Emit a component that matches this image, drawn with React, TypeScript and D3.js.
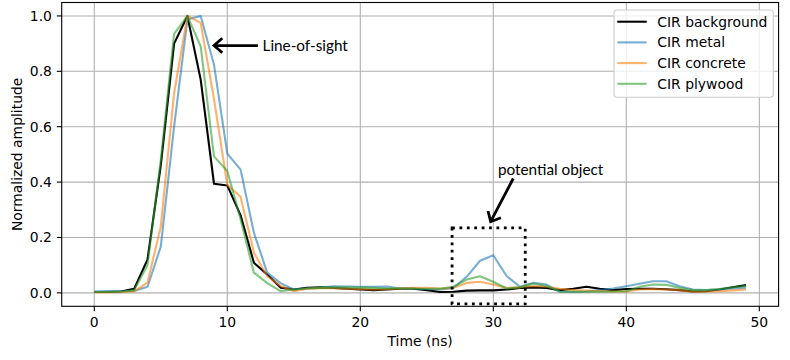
import { useEffect, useRef } from 'react';
import * as d3 from 'd3';

const time = d3.range(0, 50);

const background = [
  0.003, 0.003, 0.005, 0.015, 0.12, 0.46, 0.9, 1.0, 0.77, 0.394,
  0.388, 0.28, 0.109, 0.066, 0.019, 0.012, 0.018, 0.02, 0.018, 0.015,
  0.012, 0.01, 0.012, 0.015, 0.015, 0.01, 0.003, 0.004, 0.008, 0.009,
  0.009, 0.012, 0.018, 0.02, 0.018, 0.01, 0.015, 0.022, 0.015, 0.01,
  0.014, 0.015, 0.015, 0.013, 0.01, 0.005, 0.006, 0.012, 0.02, 0.028,
];

const metal = [
  0.005, 0.007, 0.007, 0.007, 0.022, 0.167, 0.6, 0.987, 1.0, 0.824,
  0.503, 0.445, 0.217, 0.073, 0.035, 0.012, 0.016, 0.019, 0.024, 0.023,
  0.022, 0.022, 0.023, 0.016, 0.016, 0.013, 0.012, 0.018, 0.058, 0.116,
  0.136, 0.061, 0.022, 0.036, 0.03, 0.004, 0.003, 0.005, 0.01, 0.016,
  0.024, 0.033, 0.042, 0.042, 0.024, 0.012, 0.01, 0.012, 0.016, 0.019,
];

const concrete = [
  0.002, 0.002, 0.002, 0.005, 0.037, 0.24, 0.72, 1.0, 0.975, 0.7,
  0.39, 0.347, 0.145, 0.06, 0.025, 0.006, 0.015, 0.017, 0.017, 0.015,
  0.013, 0.012, 0.013, 0.016, 0.018, 0.018, 0.016, 0.018, 0.036, 0.04,
  0.03, 0.018, 0.02, 0.025, 0.022, 0.015, 0.01, 0.008, 0.006, 0.005,
  0.005, 0.012, 0.014, 0.012, 0.01, 0.004, 0.004, 0.006, 0.009, 0.012,
];

const plywood = [
  0.003, 0.003, 0.004, 0.01, 0.1, 0.48, 0.935, 1.0, 0.89, 0.493,
  0.44, 0.265, 0.073, 0.035, 0.006, 0.012, 0.016, 0.018, 0.02, 0.02,
  0.02, 0.018, 0.016, 0.016, 0.015, 0.015, 0.015, 0.022, 0.048, 0.06,
  0.04, 0.016, 0.02, 0.034, 0.025, 0.005, 0.004, 0.004, 0.004, 0.005,
  0.006, 0.022, 0.03, 0.029, 0.018, 0.01, 0.01, 0.014, 0.02, 0.026,
];

const seriesNames = ['CIR background', 'CIR metal', 'CIR concrete', 'CIR plywood'];
const xTicks = [0, 10, 20, 30, 40, 50];
const yTicks = [0, 0.2, 0.4, 0.6, 0.8, 1.0];

export default function App() {
  const svgRef = useRef<SVGSVGElement>(null);

  useEffect(() => {
    const width = 790;
    const height = 360;
    const margin = { top: 2.5, right: 11.4, bottom: 53.7, left: 61.7 };
    const innerWidth = width - margin.left - margin.right;
    const innerHeight = height - margin.top - margin.bottom;
    const font = 'DejaVu Sans, sans-serif';
    const annFont = 'Lato, Open Sans, sans-serif';

    const svg = d3.select(svgRef.current);
    svg.selectAll('*').remove();
    svg.attr('width', width).attr('height', height);

    const chart = svg.append('g')
      .attr('transform', `translate(${margin.left},${margin.top})`);

    const xScale = d3.scaleLinear().domain([-2.45, 51.45]).range([0, innerWidth]);
    const yScale = d3.scaleLinear().domain([-0.0485, 1.0485]).range([innerHeight, 0]);

    // grid
    chart.selectAll('.xgrid').data(xTicks).join('line')
      .attr('x1', d => xScale(d)).attr('x2', d => xScale(d))
      .attr('y1', 0).attr('y2', innerHeight)
      .attr('stroke', '#b0b0b0').attr('stroke-width', 1.1);
    chart.selectAll('.ygrid').data(yTicks).join('line')
      .attr('x1', 0).attr('x2', innerWidth)
      .attr('y1', d => yScale(d)).attr('y2', d => yScale(d))
      .attr('stroke', '#b0b0b0').attr('stroke-width', 1.1);

    // lines
    const series = [
      { values: background, color: '#000000', opacity: 1 },
      { values: metal, color: '#1f77b4', opacity: 0.6 },
      { values: concrete, color: '#ff7f0e', opacity: 0.6 },
      { values: plywood, color: '#2ca02c', opacity: 0.6 },
    ];
    const line = d3.line<number>()
      .x((_, i) => xScale(time[i]))
      .y(d => yScale(d));

    const plot = chart.append('g');
    series.forEach(s => {
      plot.append('path')
        .attr('d', line(s.values))
        .attr('fill', 'none')
        .attr('stroke', s.color)
        .attr('stroke-opacity', s.opacity)
        .attr('stroke-width', 2.1)
        .attr('stroke-linejoin', 'round');
    });

    // dotted box around the object reflection
    chart.append('rect')
      .attr('x', xScale(26.9))
      .attr('y', yScale(0.235))
      .attr('width', xScale(32.4) - xScale(26.9))
      .attr('height', yScale(-0.04) - yScale(0.235))
      .attr('fill', 'none')
      .attr('stroke', '#000')
      .attr('stroke-width', 2.8)
      .attr('stroke-dasharray', '2.8,4.6');

    // annotations
    const arrow = (x1: number, y1: number, x2: number, y2: number) => {
      const px1 = xScale(x1), py1 = yScale(y1), px2 = xScale(x2), py2 = yScale(y2);
      const ang = Math.atan2(py1 - py2, px1 - px2);
      const len = 11;
      const spread = 0.72;
      const a1 = [px2 + len * Math.cos(ang + spread), py2 + len * Math.sin(ang + spread)];
      const a2 = [px2 + len * Math.cos(ang - spread), py2 + len * Math.sin(ang - spread)];
      chart.append('path')
        .attr('d', `M${px1},${py1}L${px2},${py2}M${a1[0]},${a1[1]}L${px2},${py2}L${a2[0]},${a2[1]}`)
        .attr('fill', 'none')
        .attr('stroke', '#000')
        .attr('stroke-width', 2.8);
    };

    arrow(12.3, 0.893, 9.0, 0.893);
    chart.append('text')
      .attr('x', xScale(12.65))
      .attr('y', yScale(0.893))
      .attr('dy', '0.35em')
      .attr('font-family', annFont)
      .attr('font-size', 15.3)
      .text('Line-of-sight');

    arrow(31.5, 0.413, 29.8, 0.257);
    chart.append('text')
      .attr('x', xScale(30.35))
      .attr('y', yScale(0.445))
      .attr('dy', '0.35em')
      .attr('font-family', annFont)
      .attr('font-size', 15.3)
      .text('potential object');

    // frame
    chart.append('rect')
      .attr('width', innerWidth).attr('height', innerHeight)
      .attr('fill', 'none').attr('stroke', '#000').attr('stroke-width', 1.1);

    // ticks
    chart.selectAll('.xtick').data(xTicks).join('line')
      .attr('x1', d => xScale(d)).attr('x2', d => xScale(d))
      .attr('y1', innerHeight).attr('y2', innerHeight + 4.9)
      .attr('stroke', '#000').attr('stroke-width', 1.1);
    chart.selectAll('.xlabel').data(xTicks).join('text')
      .attr('x', d => xScale(d))
      .attr('y', innerHeight + 9.8)
      .attr('dy', '0.76em')
      .attr('text-anchor', 'middle')
      .attr('font-family', font).attr('font-size', 13.9)
      .text(d => d3.format('d')(d));

    chart.selectAll('.ytick').data(yTicks).join('line')
      .attr('x1', -4.9).attr('x2', 0)
      .attr('y1', d => yScale(d)).attr('y2', d => yScale(d))
      .attr('stroke', '#000').attr('stroke-width', 1.1);
    chart.selectAll('.ylabel').data(yTicks).join('text')
      .attr('x', -9.8)
      .attr('y', d => yScale(d))
      .attr('dy', '0.36em')
      .attr('text-anchor', 'end')
      .attr('font-family', font).attr('font-size', 13.9)
      .text(d => d3.format('.1f')(d));

    chart.append('text')
      .attr('x', innerWidth / 2)
      .attr('y', innerHeight + 40)
      .attr('text-anchor', 'middle')
      .attr('font-family', font).attr('font-size', 13.9)
      .text('Time (ns)');

    chart.append('text')
      .attr('transform', `translate(${17 - margin.left},${innerHeight / 2}) rotate(-90)`)
      .attr('text-anchor', 'middle')
      .attr('dy', '0.35em')
      .attr('font-family', font).attr('font-size', 13.9)
      .text('Normalized amplitude');

    // legend
    const legend = svg.append('g').attr('transform', 'translate(614,10)');
    legend.append('rect')
      .attr('width', 159.3).attr('height', 87.3)
      .attr('rx', 3)
      .attr('fill', '#fff').attr('fill-opacity', 0.8)
      .attr('stroke', '#cccccc').attr('stroke-width', 1.1);
    seriesNames.forEach((name, i) => {
      const y = 11.7 + i * 20.7;
      legend.append('line')
        .attr('x1', 3.3).attr('x2', 32.7)
        .attr('y1', y).attr('y2', y)
        .attr('stroke', series[i].color)
        .attr('stroke-opacity', series[i].opacity)
        .attr('stroke-width', 2.1);
      legend.append('text')
        .attr('x', 43.3).attr('y', y)
        .attr('dy', '0.36em')
        .attr('font-family', font).attr('font-size', 13.9)
        .text(name);
    });
  }, []);

  return (
    <div style={{ position: 'absolute', left: 0, top: 0 }}>
      <svg ref={svgRef} style={{ display: 'block' }}></svg>
    </div>
  );
}
